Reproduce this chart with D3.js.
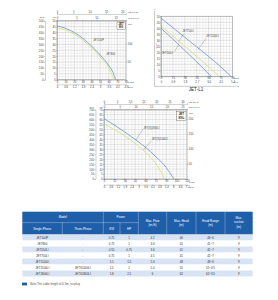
<!DOCTYPE html>
<html>
<head>
<meta charset="utf-8">
<script src="https://cdn.jsdelivr.net/npm/d3@7"></script>
<style>
  body { margin: 0; background: #fff; }
  svg { display: block; font-family: "Liberation Sans", Arial, sans-serif; }
</style>
</head>
<body>
<svg id="chart" width="278" height="300"></svg>
<script>
// ---- JET 800 (débit L/min, hauteur m) ----
const flow100P = [0, 10, 20, 30, 40, 50, 60, 65, 68];
const head100P = [45.5, 43.5, 40, 35, 28.5, 21, 12, 6, 0];
const flow800 = [0, 10, 20, 30, 40, 50, 60, 66];
const head800 = [44, 42, 38.5, 33.5, 27, 19.5, 10, 0];

// ---- JET-L1 ----
const flow1100 = [0, 15, 30, 45, 60, 75, 88];
const head1100 = [48.5, 40.5, 32.5, 24.5, 16.5, 8, 0];
const flow750 = [0, 15, 30, 45, 60, 73];
const head750 = [42, 33.5, 25, 16.5, 8, 0];
const flow550 = [0, 15, 30, 45, 63];
const head550 = [40, 31, 21.5, 12, 0];

// ---- JET 1500/1800 ----
const flow1800 = [0, 15, 30, 45, 60, 75, 90, 101];
const head1800 = [61, 54.5, 47.5, 40, 32, 22.5, 11.5, 0];
const flow1500 = [0, 15, 30, 45, 60, 75, 88];
const head1500 = [55.5, 50, 43.5, 36, 27, 15.5, 0];

// ---- tableau ----
const models = ["JET100P", "JET800", "JET550LI", "JET750LI", "JET1100LI", "JET1500LI", "JET1800LI"];
const threePhase = ["-", "-", "-", "-", "-", "JETS1500LI", "JETS1800LI"];
const powerKW = ["0.75", "0.75", "0.55", "0.75", "1.1", "1.5", "1.8"];
const powerHP = ["1", "1", "0.75", "1", "1.5", "2", "2.5"];
const maxFlow = ["4.2", "3.6", "3.6", "4.5", "5.4", "5.4", "6"];
const maxHead = ["46", "41", "41", "41", "48", "55", "62"];
const headRange = ["46~6", "41~7", "41~7", "41~7", "48~6", "55~4.5", "62~3.5"];
const maxSuction = ["9", "9", "9", "9", "9", "9", "9"];

const blue = "#6f8fcf";
const yellow = "#d6de78";
const ink = "#444";

const svg = d3.select("#chart");

function styleAxis(a) {
  a.attr("font-size", 2.8).attr("font-family", null);
  a.select(".domain").attr("stroke", "#666").attr("stroke-width", 0.3);
  a.selectAll(".tick line").attr("stroke", "#666").attr("stroke-width", 0.3);
  a.selectAll("text").attr("fill", ink);
  return a;
}

function label(g, x, y, txt, opts = {}) {
  return g.append("text").attr("x", x).attr("y", y)
    .attr("font-size", opts.size || 2.8)
    .attr("text-anchor", opts.anchor || "start")
    .attr("font-weight", opts.bold ? "bold" : null)
    .attr("fill", opts.fill || ink)
    .text(txt);
}

// grille + courbes d'une pompe
function pumpChart(o) {
  const g = svg.append("g");
  const x = d3.scaleLinear().domain([0, o.xMax]).range([o.left, o.right]);
  const y = d3.scaleLinear().domain([0, o.yMax]).range([o.bottom, o.top]);

  g.append("g").selectAll("line")
    .data(d3.range(0, o.xMax + 0.001, o.xStep))
    .join("line")
    .attr("x1", d => x(d)).attr("x2", d => x(d))
    .attr("y1", o.top).attr("y2", o.bottom)
    .attr("stroke", (d, i) => i % o.xMajor === 0 ? "#a0a0a0" : "#d2d2d2")
    .attr("stroke-width", 0.3);

  g.append("g").selectAll("line")
    .data(d3.range(0, o.yMax + 0.001, o.yStep))
    .join("line")
    .attr("y1", d => y(d)).attr("y2", d => y(d))
    .attr("x1", o.left).attr("x2", o.right)
    .attr("stroke", (d, i) => i % o.yMajor === 0 ? "#a0a0a0" : "#d2d2d2")
    .attr("stroke-width", 0.3);

  g.append("rect")
    .attr("x", o.left).attr("y", o.top)
    .attr("width", o.right - o.left).attr("height", o.bottom - o.top)
    .attr("fill", "none").attr("stroke", "#777").attr("stroke-width", 0.35);

  const line = d3.line()
    .x(d => x(d[0])).y(d => y(d[1]))
    .curve(d3.curveMonotoneX);

  o.series.forEach(s => {
    g.append("path")
      .datum(d3.zip(s.flow, s.head))
      .attr("d", line)
      .attr("fill", "none")
      .attr("stroke", s.color)
      .attr("stroke-width", 0.8);
  });

  // étiquettes des modèles avec trait de rappel
  (o.notes || []).forEach(n => {
    if (n.to) {
      g.append("line")
        .attr("x1", x(n.from[0])).attr("y1", y(n.from[1]))
        .attr("x2", x(n.to[0])).attr("y2", y(n.to[1]))
        .attr("stroke", "#555").attr("stroke-width", 0.3);
    }
    label(g, x(n.at[0]), y(n.at[1]), n.text, { size: 2.6 });
  });

  return { g, x, y };
}

// ================= graphique 1 : JET 800 =================
const c1 = pumpChart({
  left: 57, right: 126, top: 20.7, bottom: 79.7,
  xMax: 80, yMax: 50, xStep: 10 / 3, xMajor: 3, yStep: 2.5, yMajor: 2,
  series: [
    { flow: flow800, head: head800, color: yellow },
    { flow: flow100P, head: head100P, color: blue }
  ],
  notes: [
    { text: "JET100P", at: [42, 32.5] },
    { text: "JET800", at: [57, 21] }
  ]
});
{
  const { g, x, y } = c1;
  styleAxis(g.append("g").attr("transform", "translate(0,79.7)")
    .call(d3.axisBottom(x).tickValues(d3.range(0, 81, 10)).tickSize(1).tickPadding(0.5)));
  const xm3 = d3.scaleLinear().domain([0, 4.8]).range(x.range());
  styleAxis(g.append("g").attr("transform", "translate(0,84.3)")
    .call(d3.axisBottom(xm3).tickValues(d3.range(0, 4.81, 0.6)).tickSize(1).tickPadding(0.5)
      .tickFormat(d => d === 0 ? "0" : d3.format(".1f")(d).replace(".0", ""))));
  const xus = d3.scaleLinear().domain([0, 80 / 3.785]).range(x.range());
  styleAxis(g.append("g").attr("transform", "translate(0,14)")
    .call(d3.axisTop(xus).tickValues(d3.range(0, 21, 5)).tickSize(1).tickPadding(0.5)));
  const ximp = d3.scaleLinear().domain([0, 80 / 4.546]).range(x.range());
  styleAxis(g.append("g").attr("transform", "translate(0,20.7)")
    .call(d3.axisTop(ximp).tickValues(d3.range(0, 16, 5)).tickSize(1).tickPadding(0.5)));
  styleAxis(g.append("g").attr("transform", "translate(57,0)")
    .call(d3.axisLeft(y).tickValues(d3.range(0, 51, 5)).tickSize(1).tickPadding(0.5)));
  const ykpa = d3.scaleLinear().domain([0, 500]).range(y.range());
  styleAxis(g.append("g").attr("transform", "translate(45,0)")
    .call(d3.axisLeft(ykpa).tickValues(d3.range(0, 501, 50)).tickSize(1).tickPadding(0.5)));
  const yft = d3.scaleLinear().domain([0, 50 * 3.281]).range(y.range());
  styleAxis(g.append("g").attr("transform", "translate(126,0)")
    .call(d3.axisRight(yft).tickValues([50, 100]).tickSize(1).tickPadding(0.6)))
    .select(".domain").remove();

  label(g, 128, 13, "US g.p.m", { size: 2.4 });
  label(g, 128, 19.3, "Imp g.p.m", { size: 2.4 });
  label(g, 128, 24.5, "feet", { size: 2.4 });
  label(g, 128, 83.3, "L/min", { size: 2.4 });
  label(g, 128, 87.9, "m³/h", { size: 2.4 });
  label(g, 44, 18.2, "kPa", { size: 2.4, anchor: "end" });
  label(g, 56, 18.2, "(m)", { size: 2.4, anchor: "end" });

  g.append("rect").attr("x", 117).attr("y", 22).attr("width", 8.2).attr("height", 7.4)
    .attr("fill", "#fff").attr("stroke", "#333").attr("stroke-width", 0.3);
  label(g, 121.1, 25.2, "JET", { size: 2.8, anchor: "middle", bold: true, fill: "#222" });
  label(g, 121.1, 28.4, "800", { size: 2.6, anchor: "middle", bold: true, fill: "#222" });
}

// ================= graphique 2 : JET-L1 =================
const c2 = pumpChart({
  left: 161, right: 232.5, top: 16.3, bottom: 76.3,
  xMax: 90, yMax: 50, xStep: 3.75, xMajor: 4, yStep: 2.5, yMajor: 2,
  series: [
    { flow: flow550, head: head550, color: blue },
    { flow: flow750, head: head750, color: yellow },
    { flow: flow1100, head: head1100, color: blue }
  ],
  notes: [
    { text: "JET750LI", at: [27, 37], from: [29, 35.5], to: [22, 29] },
    { text: "JET1100LI", at: [57, 32.5], from: [56.5, 31.5], to: [47, 22.5] },
    { text: "JET550LI", at: [1, 18.8], from: [17, 20.5], to: [22, 26.3] }
  ]
});
{
  const { g, x, y } = c2;
  styleAxis(g.append("g").attr("transform", "translate(0,76.3)")
    .call(d3.axisBottom(x).tickValues(d3.range(0, 91, 15)).tickSize(0.8).tickPadding(0.4)));
  const xm3 = d3.scaleLinear().domain([0, 5.4]).range(x.range());
  styleAxis(g.append("g").attr("transform", "translate(0,80.6)")
    .call(d3.axisBottom(xm3).tickValues(d3.range(0, 5.41, 0.9)).tickSize(0).tickPadding(0.4)
      .tickFormat(d => d === 0 ? "0" : d3.format(".1f")(d))))
    .select(".domain").remove();
  styleAxis(g.append("g").attr("transform", "translate(161,0)")
    .call(d3.axisLeft(y).tickValues(d3.range(0, 51, 5)).tickSize(0.8).tickPadding(0.4)));

  // cadre extérieur en L
  g.append("path").attr("d", "M154.5,11 V86.3 H236")
    .attr("fill", "none").attr("stroke", "#666").attr("stroke-width", 0.35);
  label(g, 154.5, 10.3, "H", { size: 2.4, anchor: "middle" });
  label(g, 237, 87.2, "Q", { size: 2.4 });
  label(g, 233.5, 79.2, "L/min", { size: 2.2 });
  label(g, 233.5, 83.4, "m³/h", { size: 2.2 });
  g.append("text")
    .attr("transform", "translate(157,46) rotate(-90)")
    .attr("font-size", 2.4).attr("text-anchor", "middle").attr("fill", ink)
    .text("H(m)");
  label(g, 196, 91, "JET-L1", { size: 4.6, anchor: "middle", fill: "#222" });
}

// ================= graphique 3 : JET 1500/1800 =================
const c3 = pumpChart({
  left: 104, right: 187, top: 109.7, bottom: 179,
  xMax: 120, yMax: 70, xStep: 5, xMajor: 3, yStep: 2.5, yMajor: 2,
  series: [
    { flow: flow1500, head: head1500, color: yellow },
    { flow: flow1800, head: head1800, color: blue }
  ],
  notes: [
    { text: "JET(S)1800LI", at: [57, 51], from: [56.5, 50.5], to: [46, 39.6] },
    { text: "JET(S)1500LI", at: [69, 39], from: [68.5, 38.5], to: [57, 29.5] }
  ]
});
{
  const { g, x, y } = c3;
  styleAxis(g.append("g").attr("transform", "translate(0,179)")
    .call(d3.axisBottom(x).tickValues(d3.range(0, 121, 15)).tickSize(1).tickPadding(0.5)));
  const xm3 = d3.scaleLinear().domain([0, 7.2]).range(x.range());
  styleAxis(g.append("g").attr("transform", "translate(0,184.6)")
    .call(d3.axisBottom(xm3).tickValues(d3.range(0, 7.21, 0.6)).tickSize(1).tickPadding(0.5)
      .tickFormat(d => d === 0 ? "0" : d3.format(".1f")(d).replace(".0", ""))));
  const xus = d3.scaleLinear().domain([0, 120 / 3.785]).range(x.range());
  styleAxis(g.append("g").attr("transform", "translate(0,104)")
    .call(d3.axisTop(xus).tickValues(d3.range(0, 31, 5)).tickSize(1).tickPadding(0.5)));
  const ximp = d3.scaleLinear().domain([0, 120 / 4.546]).range(x.range());
  styleAxis(g.append("g").attr("transform", "translate(0,109.7)")
    .call(d3.axisTop(ximp).tickValues(d3.range(0, 26, 5)).tickSize(1).tickPadding(0.5)));
  styleAxis(g.append("g").attr("transform", "translate(104,0)")
    .call(d3.axisLeft(y).tickValues(d3.range(0, 71, 5)).tickSize(1).tickPadding(0.5)));
  const ykpa = d3.scaleLinear().domain([0, 700]).range(y.range());
  styleAxis(g.append("g").attr("transform", "translate(95.5,0)")
    .call(d3.axisLeft(ykpa).tickValues(d3.range(0, 701, 50)).tickSize(1).tickPadding(0.5)));
  const yft = d3.scaleLinear().domain([0, 70 * 3.281]).range(y.range());
  styleAxis(g.append("g").attr("transform", "translate(187,0)")
    .call(d3.axisRight(yft).tickValues([50, 100, 150, 200]).tickSize(1).tickPadding(0.6)))
    .select(".domain").remove();

  label(g, 188.5, 103, "US g.p.m", { size: 2.4 });
  label(g, 188.5, 108.3, "Imp g.p.m", { size: 2.4 });
  label(g, 189, 113.5, "feet", { size: 2.4 });
  label(g, 189, 182.6, "L/min", { size: 2.4 });
  label(g, 189, 188.2, "m³/h", { size: 2.4 });
  label(g, 93.5, 107.8, "kPa", { size: 2.4, anchor: "end" });
  label(g, 103, 107.8, "(m)", { size: 2.4, anchor: "end" });

  g.append("rect").attr("x", 176.8).attr("y", 111.2).attr("width", 9.2).attr("height", 9)
    .attr("fill", "#fff").attr("stroke", "#333").attr("stroke-width", 0.3);
  label(g, 181.4, 115, "JET", { size: 3, anchor: "middle", bold: true, fill: "#222" });
  label(g, 181.4, 119, "800L", { size: 2.6, anchor: "middle", bold: true, fill: "#222" });
}

// ================= tableau =================
const headBlue = "#1f5ea9";
const colEdges = [22.3, 62.3, 103.3, 120, 138.3, 166.7, 196, 225, 252.7];
const colMid = i => (colEdges[i] + colEdges[i + 1]) / 2;
const rowY = d3.scaleBand().domain(models).range([234.5, 276.5]);
const rows = models.map((m, i) => [m, threePhase[i], powerKW[i], powerHP[i],
  maxFlow[i], maxHead[i], headRange[i], maxSuction[i]]);

const tbl = svg.append("g");
tbl.append("rect").attr("x", 22.3).attr("y", 211.7)
  .attr("width", 252.7 - 22.3).attr("height", 234.5 - 211.7).attr("fill", headBlue);

// séparateurs blancs de l'en-tête
[103.3, 138.3, 166.7, 196, 225].forEach(xv => {
  tbl.append("line").attr("x1", xv).attr("x2", xv).attr("y1", 211.7).attr("y2", 234.5)
    .attr("stroke", "#fff").attr("stroke-width", 0.3);
});
[62.3, 120].forEach(xv => {
  tbl.append("line").attr("x1", xv).attr("x2", xv).attr("y1", 222.6).attr("y2", 234.5)
    .attr("stroke", "#fff").attr("stroke-width", 0.3);
});
tbl.append("line").attr("x1", 22.3).attr("x2", 138.3).attr("y1", 222.6).attr("y2", 222.6)
  .attr("stroke", "#fff").attr("stroke-width", 0.3);

const hs = { size: 3, anchor: "middle", fill: "#fff" };
label(tbl, (22.3 + 103.3) / 2, 217.8, "Model", hs);
label(tbl, (103.3 + 138.3) / 2, 217.8, "Power", hs);
label(tbl, colMid(0), 229.6, "Single-Phase", hs);
label(tbl, colMid(1), 229.6, "Three-Phase", hs);
label(tbl, colMid(2), 229.6, "KW", hs);
label(tbl, colMid(3), 229.6, "HP", hs);
label(tbl, colMid(4), 221.8, "Max. Flow", hs);
label(tbl, colMid(4), 226.2, "(m³/h)", hs);
label(tbl, colMid(5), 221.8, "Max. Head", hs);
label(tbl, colMid(5), 226.2, "(m)", hs);
label(tbl, colMid(6), 221.8, "Head Range", hs);
label(tbl, colMid(6), 226.2, "(m)", hs);
label(tbl, colMid(7), 219.4, "Max.", hs);
label(tbl, colMid(7), 223.4, "suction", hs);
label(tbl, colMid(7), 227.6, "(m)", hs);

tbl.selectAll("rect.row").data(rows).join("rect")
  .attr("class", "row")
  .attr("x", 22.3).attr("width", 252.7 - 22.3)
  .attr("y", d => rowY(d[0])).attr("height", rowY.bandwidth())
  .attr("fill", (d, i) => i % 2 === 0 ? "#d8e3f3" : "#ffffff");

rows.forEach(r => {
  r.forEach((v, j) => {
    tbl.append("text")
      .attr("x", colMid(j))
      .attr("y", rowY(r[0]) + rowY.bandwidth() / 2)
      .attr("dy", "0.35em")
      .attr("font-size", 2.9).attr("text-anchor", "middle").attr("fill", "#333")
      .text(v);
  });
});

// note
svg.append("rect").attr("x", 22).attr("y", 282.6).attr("width", 5).attr("height", 2.8)
  .attr("fill", headBlue);
label(svg, 30, 285.2, "Note:The cable length of 0.3m, no plug", { size: 2.9, fill: "#555" });
</script>
</body>
</html>
